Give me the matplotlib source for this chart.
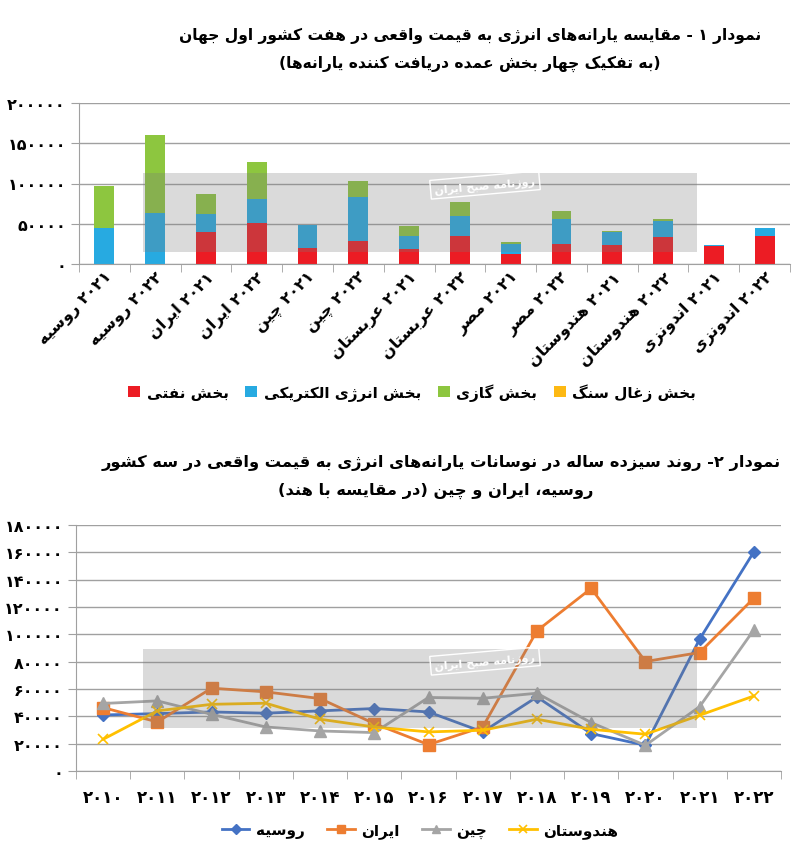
import re
import numpy as np
import matplotlib
matplotlib.use('Agg')
import matplotlib.pyplot as plt
from matplotlib.patches import Rectangle
from matplotlib.ticker import FuncFormatter, FixedLocator

# ---- data ----
categories = ['۲۰۲۱ روسیه', '۲۰۲۲ روسیه', '۲۰۲۱ ایران', '۲۰۲۲ ایران', '۲۰۲۱ چین', '۲۰۲۲ چین',
              '۲۰۲۱ عربستان', '۲۰۲۲ عربستان', '۲۰۲۱ مصر', '۲۰۲۲ مصر',
              '۲۰۲۱ هندوستان', '۲۰۲۲ هندوستان', '۲۰۲۱ اندونزی', '۲۰۲۲ اندونزی']
oil = [0, 0, 39400, 51000, 20300, 28600, 18600, 34400, 12400, 24800, 23600, 33500, 22000, 35200]
electric = [45000, 63000, 22700, 30100, 27700, 54600, 16600, 25600, 12900, 31100, 15800, 20300, 2000, 9100]
gas = [51500, 97600, 24900, 46000, 0, 20300, 11600, 16600, 2400, 9900, 2000, 2100, 0, 0]
coal = [0, 0, 0, 0, 0, 0, 0, 0, 0, 0, 0, 0, 0, 0]
bar_labels = ['بخش نفتی', 'بخش انرژی الکتریکی', 'بخش گازی', 'بخش زغال سنگ']

years = ['۲۰۱۰', '۲۰۱۱', '۲۰۱۲', '۲۰۱۳', '۲۰۱۴', '۲۰۱۵', '۲۰۱۶',
         '۲۰۱۷', '۲۰۱۸', '۲۰۱۹', '۲۰۲۰', '۲۰۲۱', '۲۰۲۲']
russia = [41000, 42000, 43200, 42300, 44000, 45700, 43200, 28600, 54200, 27400, 18800, 96500, 160400]
iran = [46400, 35900, 60600, 57900, 53000, 34700, 19300, 32200, 102600, 133600, 80100, 86700, 126500]
china = [49400, 51300, 41500, 32200, 29300, 28100, 53800, 53200, 56900, 35400, 18800, 47100, 103300]
india = [23200, 44000, 48800, 49600, 37900, 32200, 28600, 29800, 37900, 30500, 26900, 40800, 54900]
line_labels = ['روسیه', 'ایران', 'چین', 'هندوستان']

title1 = ['نمودار ۱ - مقایسه یارانه\u200cهای انرژی به قیمت واقعی در هفت کشور اول جهان',
          '(به تفکیک چهار بخش عمده دریافت کننده یارانه\u200cها)']
title2 = ['نمودار ۲- روند سیزده ساله در نوسانات یارانه\u200cهای انرژی به قیمت واقعی در سه کشور',
          'روسیه، ایران و چین (در مقایسه با هند)']

# ---- minimal persian shaping + bidi (matplotlib does not shape arabic script) ----
DUAL = {'ب': 0xFE8F, 'ت': 0xFE95, 'ث': 0xFE99, 'ج': 0xFE9D, 'ح': 0xFEA1, 'خ': 0xFEA5,
        'س': 0xFEB1, 'ش': 0xFEB5, 'ص': 0xFEB9, 'ض': 0xFEBD, 'ط': 0xFEC1, 'ظ': 0xFEC5,
        'ع': 0xFEC9, 'غ': 0xFECD, 'ف': 0xFED1, 'ق': 0xFED5, 'ل': 0xFEDD, 'م': 0xFEE1,
        'ن': 0xFEE5, 'ه': 0xFEE9, 'ي': 0xFEF1, 'ئ': 0xFE89, 'پ': 0xFB56, 'چ': 0xFB7A,
        'ک': 0xFB8E, 'گ': 0xFB92, 'ی': 0xFBFC}
RIGHT = {'ا': 0xFE8D, 'آ': 0xFE81, 'د': 0xFEA9, 'ذ': 0xFEAB, 'ر': 0xFEAD, 'ز': 0xFEAF,
         'ژ': 0xFB8A, 'و': 0xFEED, 'ة': 0xFE93}
MIRROR = {'(': ')', ')': '('}


def shape(s):
    out = []
    for i, c in enumerate(s):
        if c == '\u200c':
            continue
        if c not in DUAL and c not in RIGHT:
            out.append(c)
            continue
        prev = s[i - 1] if i > 0 else ''
        nxt = s[i + 1] if i < len(s) - 1 else ''
        jp = prev in DUAL
        jn = c in DUAL and (nxt in DUAL or nxt in RIGHT)
        base = DUAL.get(c, RIGHT.get(c))
        if jp and jn:
            f = 3
        elif jp:
            f = 1
        elif jn:
            f = 2
        else:
            f = 0
        out.append(chr(base + f))
    return ''.join(out)


def fa(s):
    s = shape(s)
    segs = re.split(r'([0-9\u06F0-\u06F9]+)', s)
    vis = []
    for seg in reversed(segs):
        if re.fullmatch(r'[0-9\u06F0-\u06F9]+', seg):
            vis.append(seg)
        else:
            vis.append(''.join(MIRROR.get(c, c) for c in reversed(seg)))
    return ''.join(vis)


def fa_num(v, pos=None):
    return str(int(v)).translate(str.maketrans('0123456789', '۰۱۲۳۴۵۶۷۸۹'))


plt.rcParams['font.family'] = ['DejaVu Sans']
plt.rcParams['font.weight'] = 'bold'

W, H = 800, 862
fig = plt.figure(figsize=(W / 100, H / 100), dpi=100)


def box(l, t, r, b):
    return [l / W, 1 - b / H, (r - l) / W, (b - t) / H]


def style_axes(ax):
    for s in ['top', 'right']:
        ax.spines[s].set_visible(False)
    ax.spines['left'].set_color('#a0a0a0')
    ax.spines['bottom'].set_color('#a0a0a0')
    ax.grid(axis='y', color='#a0a0a0', linewidth=1)
    ax.set_axisbelow(True)
    ax.tick_params(axis='y', length=6, color='#a0a0a0', labelsize=11.5)
    ax.tick_params(axis='x', which='major', length=0)
    ax.tick_params(axis='x', which='minor', length=6, color='#a0a0a0')
    ax.yaxis.set_major_formatter(FuncFormatter(fa_num))


# ---- chart 1: stacked bars ----
ax1 = fig.add_axes(box(79, 104, 790, 265))
x = np.arange(len(categories))
c_oil, c_el, c_gas, c_coal = '#ec1c24', '#27aae1', '#8dc63f', '#fdb913'
b_el = np.array(oil)
b_gas = b_el + np.array(electric)
b_coal = b_gas + np.array(gas)
ax1.bar(x, oil, 0.39, color=c_oil, label=fa(bar_labels[0]))
ax1.bar(x, electric, 0.39, bottom=b_el, color=c_el, label=fa(bar_labels[1]))
ax1.bar(x, gas, 0.39, bottom=b_gas, color=c_gas, label=fa(bar_labels[2]))
ax1.bar(x, coal, 0.39, bottom=b_coal, color=c_coal, label=fa(bar_labels[3]))
ax1.set_ylim(0, 200000)
ax1.set_yticks(np.arange(0, 200001, 50000))
ax1.set_xlim(-0.5, len(categories) - 0.5)
ax1.set_xticks(x)
ax1.set_xticklabels([fa(c) for c in categories], rotation=45, ha='right',
                    rotation_mode='anchor', fontsize=11.5)
ax1.xaxis.set_minor_locator(FixedLocator(np.arange(-0.5, len(categories), 1)))
style_axes(ax1)
ax1.legend(loc='center', bbox_to_anchor=(412 / W, 1 - 393 / H), bbox_transform=fig.transFigure,
           ncol=4, frameon=False, fontsize=11, handlelength=0.8, handleheight=0.8,
           handletextpad=0.4, columnspacing=1.1)

fig.text(470 / W, 1 - 36 / H, fa(title1[0]), ha='center', va='center', fontsize=11.2, fontweight='bold')
fig.text(470 / W, 1 - 64 / H, fa(title1[1]), ha='center', va='center', fontsize=11.2, fontweight='bold')

# ---- chart 2: lines ----
ax2 = fig.add_axes(box(76, 526, 781, 772))
xi = np.arange(len(years))
ax2.plot(xi, russia, color='#4472c4', lw=2, marker='D', ms=6, label=fa(line_labels[0]))
ax2.plot(xi, iran, color='#ed7d31', lw=2, marker='s', ms=8, label=fa(line_labels[1]))
ax2.plot(xi, china, color='#a5a5a5', lw=2, marker='^', ms=8, label=fa(line_labels[2]))
ax2.plot(xi, india, color='#ffc000', lw=2, marker='x', ms=7, mew=1.2, label=fa(line_labels[3]))
ax2.set_ylim(0, 180000)
ax2.set_yticks(np.arange(0, 180001, 20000))
ax2.set_xlim(-0.5, len(years) - 0.5)
ax2.set_xticks(xi)
ax2.set_xticklabels(years, fontsize=12)
ax2.xaxis.set_minor_locator(FixedLocator(np.arange(-0.5, len(years), 1)))
style_axes(ax2)
ax2.tick_params(axis='x', which='major', pad=12)
ax2.legend(loc='center', bbox_to_anchor=(420 / W, 1 - 831 / H), bbox_transform=fig.transFigure,
           ncol=4, frameon=False, fontsize=11, handlelength=1.8, handletextpad=0.4,
           columnspacing=1.5, markerscale=0.8)

fig.text(441 / W, 1 - 463 / H, fa(title2[0]), ha='center', va='center', fontsize=11.7, fontweight='bold')
fig.text(436 / W, 1 - 491 / H, fa(title2[1]), ha='center', va='center', fontsize=11.7, fontweight='bold')

# ---- grey watermark bands ----
for t, b in [(174, 253), (650, 729)]:
    fig.add_artist(Rectangle((143 / W, 1 - b / H), (697 - 143) / W, (b - t) / H,
                             transform=fig.transFigure, facecolor='#7a7a7a', alpha=0.28,
                             edgecolor='none', zorder=5))
    fig.text(485 / W, 1 - (t + 12) / H, fa('روزنامه صبح ایران'), ha='center', va='center',
             fontsize=8, color='white', rotation=5, zorder=6,
             bbox=dict(facecolor='none', edgecolor='white', linewidth=1, pad=3))

fig.savefig('out.png', dpi=100)
